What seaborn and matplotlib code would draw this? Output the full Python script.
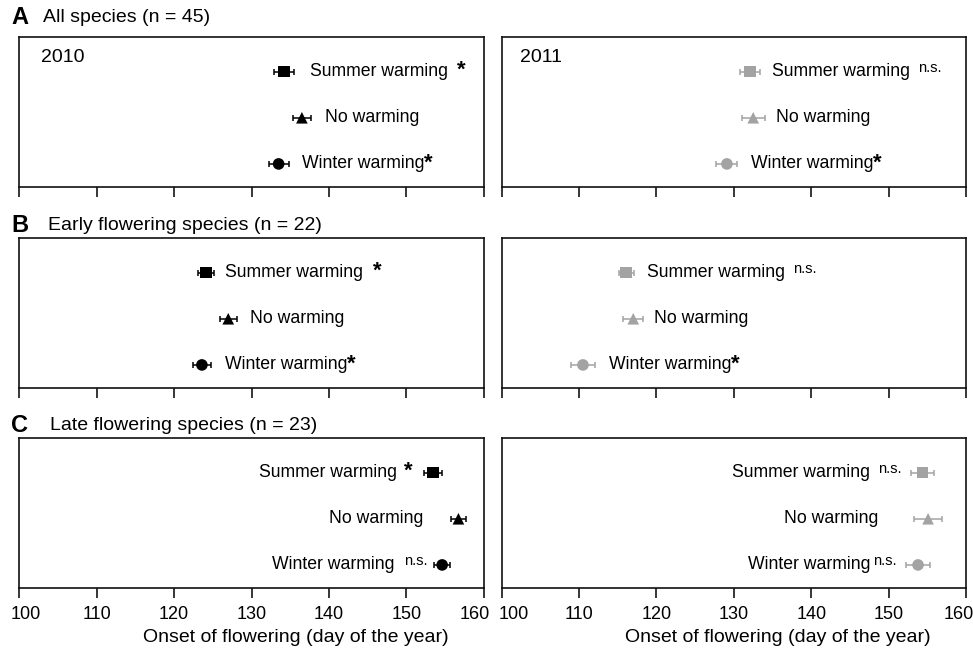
import matplotlib
matplotlib.use("Agg")
import matplotlib.pyplot as plt
import matplotlib.transforms as mtransforms
import seaborn as sns
import pandas as pd

# ---------------- data ----------------
treatments = ["Summer warming", "No warming", "Winter warming"]
ypos = [3, 2, 1]

onset_2010_all = [134.2, 136.5, 133.5]
se_2010_all = [1.3, 1.2, 1.3]
onset_2011_all = [132.1, 132.5, 129.1]
se_2011_all = [1.3, 1.5, 1.35]

onset_2010_early = [124.1, 127.0, 123.6]
se_2010_early = [1.0, 1.1, 1.2]
onset_2011_early = [116.1, 117.0, 110.5]
se_2011_early = [1.0, 1.3, 1.5]

onset_2010_late = [153.4, 156.7, 154.6]
se_2010_late = [1.2, 1.0, 1.0]
onset_2011_late = [154.4, 155.1, 153.8]
se_2011_late = [1.5, 1.8, 1.5]

sig_2010_all = ["*", "", "*"]
sig_2011_all = ["n.s.", "", "*"]
sig_2010_early = ["*", "", "*"]
sig_2011_early = ["n.s.", "", "*"]
sig_2010_late = ["*", "", "n.s."]
sig_2011_late = ["n.s.", "", "n.s."]

row_letters = ["A", "B", "C"]
row_titles = ["All species (n = 45)", "Early flowering species (n = 22)",
              "Late flowering species (n = 23)"]
years = ["2010", "2011"]
xticks = [100, 110, 120, 130, 140, 150, 160]
xlabel = "Onset of flowering (day of the year)"

# ---------------- style ----------------
sns.set_theme(style="ticks")
plt.rcParams["font.family"] = ["Liberation Sans", "DejaVu Sans"]
plt.rcParams["axes.edgecolor"] = "#111111"
plt.rcParams["axes.linewidth"] = 1.2
plt.rcParams["text.color"] = "black"
plt.rcParams["xtick.color"] = "black"
plt.rcParams["axes.labelcolor"] = "black"

COL = {"2010": "black", "2011": "#a3a3a3"}
MARK = {"Summer warming": "s", "No warming": "^", "Winter warming": "o"}

panels = [
    [(onset_2010_all, se_2010_all, sig_2010_all), (onset_2011_all, se_2011_all, sig_2011_all)],
    [(onset_2010_early, se_2010_early, sig_2010_early), (onset_2011_early, se_2011_early, sig_2011_early)],
    [(onset_2010_late, se_2010_late, sig_2010_late), (onset_2011_late, se_2011_late, sig_2011_late)],
]

# label offsets in pixels from marker (positive: label right of marker;
# negative: label (+ significance mark) ends left of marker)
label_off = [
    [[26, 23, 23], [22, 23, 24]],
    [[19, 22, 23], [21, 21, 26]],
    [[-20, -35, -15], [-21, -50, -21]],
]
sig_gap = [
    [[9, 0, 0], [8, 0, 0]],
    [[10, 0, 0], [8, 0, 0]],
    [[7, 0, 9], [8, 0, 3]],
]
# horizontal nudges (pixels) of the edge tick labels, per column
edge_nudge = [(7, -9), (12, -7)]

W, H = 973, 658
fig = plt.figure(figsize=(W / 100, H / 100), dpi=100)
renderer = fig.canvas.get_renderer()

row_tops = [37, 238, 438]
panel_h = 150
col_x = [19, 501.7]
col_w = [465, 464.3]

FS = 12.7
STAR_KW = dict(fontsize=16, fontweight="bold")
NS_KW = dict(fontsize=10.5, fontweight="normal")

for r in range(3):
    for c in range(2):
        x0 = col_x[c] / W
        y0 = 1 - (row_tops[r] + panel_h) / H
        ax = fig.add_axes([x0, y0, col_w[c] / W, panel_h / H])
        onset, se, sig = panels[r][c]
        color = COL[years[c]]
        df = pd.DataFrame({"treatment": treatments, "onset": onset, "y": ypos, "se": se})
        ax.errorbar(df["onset"], df["y"], xerr=df["se"], fmt="none", ecolor=color,
                    elinewidth=1.1, capsize=2.5, capthick=1.1, zorder=2)
        sns.scatterplot(data=df, x="onset", y="y", style="treatment", markers=MARK,
                        color=color, edgecolor=color, linewidth=0, s=70, legend=False,
                        ax=ax, zorder=3)
        for i, t in enumerate(treatments):
            off = label_off[r][c][i]
            s = sig[i]
            kw = STAR_KW if s == "*" else NS_KW
            dy = 3 if s == "*" else 2
            gap = sig_gap[r][c][i]
            if off > 0:
                xt = off
            else:
                w_sig = 0
                if s:
                    tmp = fig.text(0, 0, s, **kw)
                    w_sig = tmp.get_window_extent(renderer).width
                    tmp.remove()
                xt = off - w_sig - gap
            lab = ax.annotate(t, xy=(onset[i], ypos[i]), xytext=(xt, 0),
                              textcoords="offset pixels",
                              ha="left" if off > 0 else "right", va="center",
                              fontsize=FS, color="black")
            if s:
                ax.annotate(s, xy=(1, 1), xycoords=lab, xytext=(gap, dy),
                            textcoords="offset pixels", ha="left", va="top",
                            color="black", **kw)
        ax.set_xlim(100, 160)
        ax.set_ylim(0.5, 3.75)
        ax.set_xticks(xticks)
        ax.set_yticks([])
        ax.set_ylabel("")
        ax.tick_params(axis="x", direction="out", length=7, width=1.1, pad=6,
                       labelsize=13, colors="black")
        for sp in ax.spines.values():
            sp.set_visible(True)
            sp.set_linewidth(1.2)
        if r == 2:
            ax.set_xlabel(xlabel, fontsize=14)
            ax.xaxis.set_label_coords(0.595, -0.27)
            ax.xaxis.label.set_va("top")
            labels = ax.get_xticklabels()
            for idx, dx in ((0, edge_nudge[c][0]), (-1, edge_nudge[c][1])):
                tl = labels[idx]
                tl.set_transform(tl.get_transform() +
                                 mtransforms.ScaledTranslation(dx / 100, 0, fig.dpi_scale_trans))
        else:
            ax.set_xlabel("")
            ax.tick_params(axis="x", labelbottom=False)
        if r == 0:
            ax.text(0.047 if c == 0 else 0.04, 0.865, years[c], transform=ax.transAxes,
                    ha="left", va="center", fontsize=14)

title_y = [17, 225, 425]
title_x = [43, 48, 50]
for r in range(3):
    fig.text(11 / W, 1 - title_y[r] / H, row_letters[r], ha="left", va="center",
             fontsize=17, fontweight="bold")
    fig.text(title_x[r] / W, 1 - title_y[r] / H, row_titles[r], ha="left", va="center",
             fontsize=14)

fig.savefig("out.png", dpi=100)
